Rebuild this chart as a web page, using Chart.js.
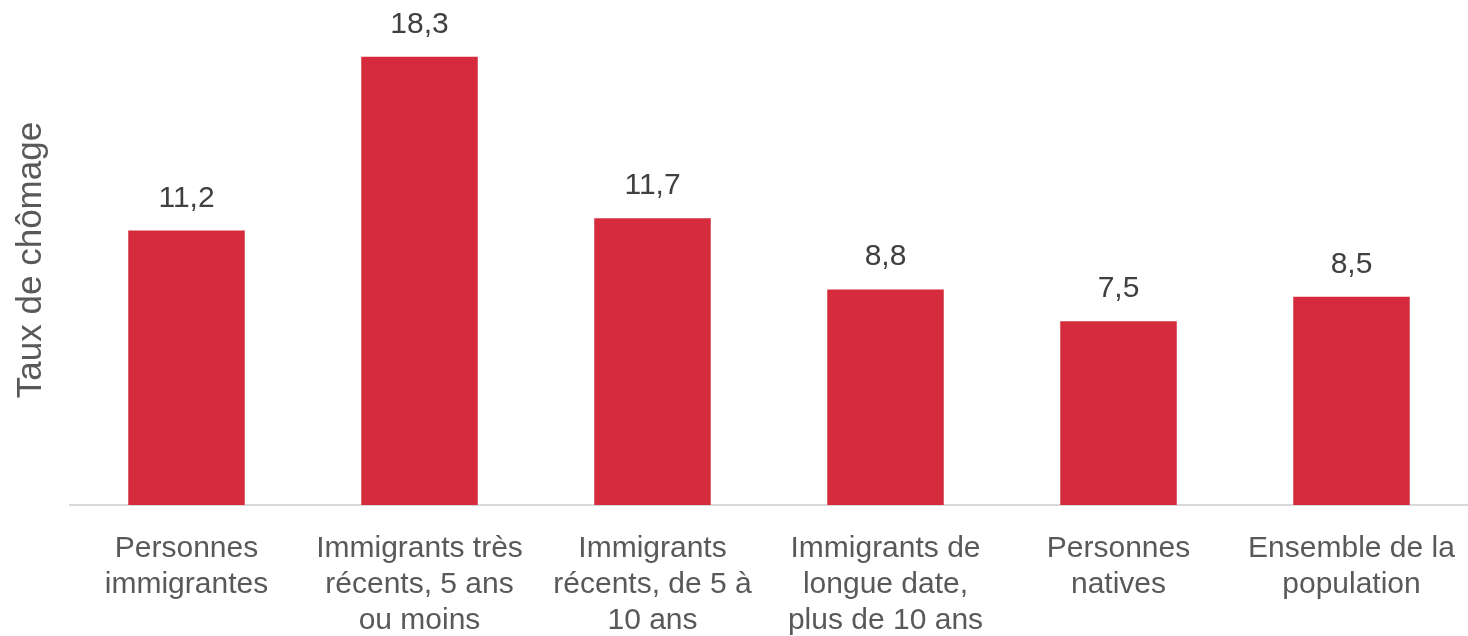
<!DOCTYPE html>
<html>
<head>
<meta charset="utf-8">
<script src="https://cdn.jsdelivr.net/npm/chart.js@4"></script>
<style>
  html, body { margin: 0; padding: 0; background: #fff; }
  #wrap { width: 1468px; height: 636px; }
</style>
</head>
<body>
<div id="wrap"><canvas id="chomageChart"></canvas></div>
<script>
const categories = [
    ["Personnes", "immigrantes"],
    ["Immigrants très", "récents, 5 ans", "ou moins"],
    ["Immigrants", "récents, de 5 à", "10 ans"],
    ["Immigrants de", "longue date,", "plus de 10 ans"],
    ["Personnes", "natives"],
    ["Ensemble de la", "population"]
];
const tauxChomage = [11.2, 18.3, 11.7, 8.8, 7.5, 8.5];

const FONT = "'Liberation Sans', Arial, sans-serif";

// value labels above each bar, French decimal comma
const valueLabels = {
    id: 'valueLabels',
    afterDatasetsDraw(chart) {
        const ctx = chart.ctx;
        const meta = chart.getDatasetMeta(0);
        ctx.save();
        ctx.font = "30px " + FONT;
        ctx.fillStyle = "#404040";
        ctx.textAlign = "center";
        ctx.textBaseline = "alphabetic";
        meta.data.forEach((bar, i) => {
            const txt = tauxChomage[i].toFixed(1).replace(".", ",");
            ctx.fillText(txt, bar.x, bar.y - 24);
        });
        ctx.restore();
    }
};

new Chart(document.getElementById("chomageChart"), {
    type: 'bar',
    data: {
        labels: categories,
        datasets: [{
            label: 'Taux de chômage',
            data: tauxChomage,
            backgroundColor: '#D52B3D',
            categoryPercentage: 1,
            barPercentage: 0.5
        }]
    },
    options: {
        responsive: true,
        maintainAspectRatio: false,
        animation: false,
        layout: { padding: { top: 15, right: 0, bottom: 0, left: 0 } },
        plugins: {
            legend: { display: false },
            tooltip: { enabled: false }
        },
        scales: {
            x: {
                grid: { display: false },
                border: { display: true, color: '#D9D9D9', width: 2 },
                ticks: {
                    color: '#595959',
                    font: { family: FONT, size: 30, lineHeight: 1.2 },
                    maxRotation: 0,
                    autoSkip: false,
                    padding: 18
                },
                afterFit(scale) {
                    scale.height = 131;
                    // the last label fits inside its own category, no extra room needed
                    scale.paddingLeft = 0;
                    scale.paddingRight = 0;
                }
            },
            y: {
                min: 0,
                max: 20,
                grid: { display: false },
                border: { display: false },
                ticks: { display: false },
                title: {
                    display: true,
                    text: 'Taux de chômage',
                    color: '#595959',
                    font: { family: FONT, size: 35 },
                    padding: { top: 10, bottom: 0 }
                },
                afterFit(scale) { scale.width = 70; }
            }
        }
    },
    plugins: [valueLabels]
});
</script>
</body>
</html>
